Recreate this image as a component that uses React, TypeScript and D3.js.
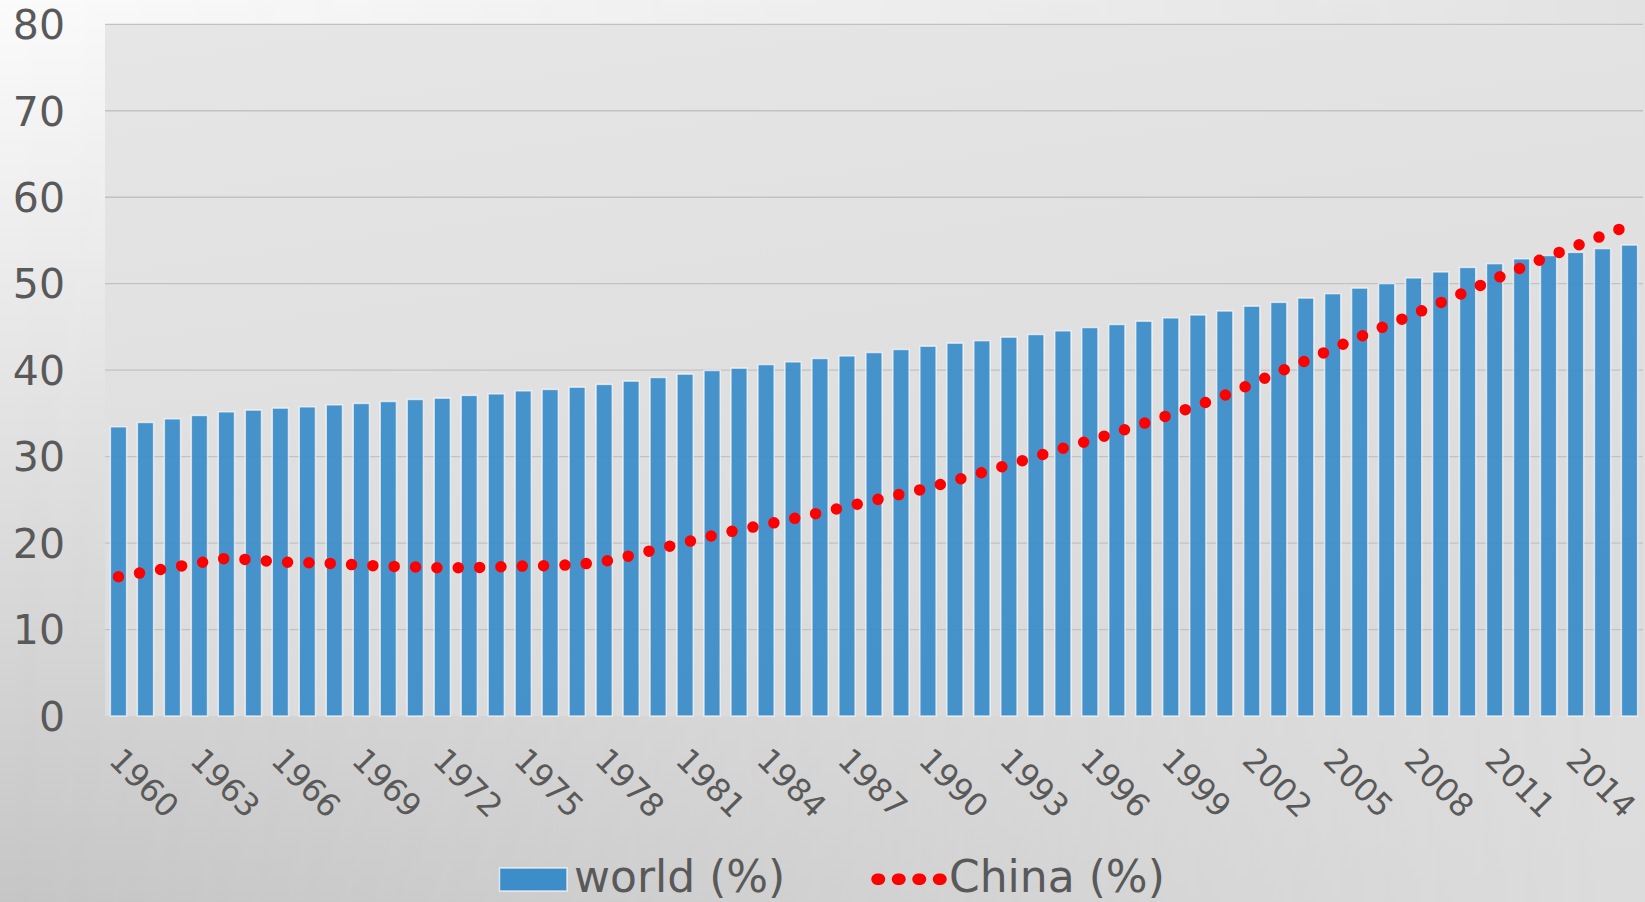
import React from "react";
import * as d3 from "d3";

const years: number[] = [
  1960, 1961, 1962, 1963, 1964, 1965, 1966, 1967, 1968, 1969,
  1970, 1971, 1972, 1973, 1974, 1975, 1976, 1977, 1978, 1979,
  1980, 1981, 1982, 1983, 1984, 1985, 1986, 1987, 1988, 1989,
  1990, 1991, 1992, 1993, 1994, 1995, 1996, 1997, 1998, 1999,
  2000, 2001, 2002, 2003, 2004, 2005, 2006, 2007, 2008, 2009,
  2010, 2011, 2012, 2013, 2014, 2015, 2016,
];

const world: number[] = [
  33.45, 33.95, 34.37, 34.76, 35.18, 35.38, 35.61, 35.76, 35.99, 36.15,
  36.38, 36.61, 36.76, 37.08, 37.26, 37.61, 37.77, 38.03, 38.35, 38.73,
  39.15, 39.54, 39.96, 40.23, 40.65, 40.96, 41.35, 41.65, 42.04, 42.39,
  42.77, 43.12, 43.41, 43.82, 44.12, 44.55, 44.93, 45.28, 45.66, 46.05,
  46.38, 46.84, 47.4, 47.84, 48.34, 48.85, 49.49, 50.01, 50.67, 51.36,
  51.88, 52.32, 52.88, 53.26, 53.62, 54.06, 54.47,
];

const china: number[] = [
  16.1, 16.65, 17.17, 17.72, 18.25, 18.05, 17.8, 17.73, 17.63, 17.44,
  17.32, 17.23, 17.13, 17.15, 17.24, 17.34, 17.39, 17.5, 17.87, 18.56,
  19.32, 20.08, 20.85, 21.54, 22.14, 22.82, 23.52, 24.22, 24.95, 25.66,
  26.37, 27.24, 28.15, 29.06, 30.0, 30.95, 31.87, 32.81, 33.84, 34.87,
  35.92, 37.1, 38.4, 39.78, 41.08, 42.47, 43.84, 45.17, 46.46, 47.81,
  49.15, 50.53, 51.87, 53.15, 54.34, 55.55, 56.75,
];

const xTickLabels: number[] = [
  1960, 1963, 1966, 1969, 1972, 1975, 1978, 1981, 1984, 1987,
  1990, 1993, 1996, 1999, 2002, 2005, 2008, 2011, 2014,
];

const yTicks: number[] = [0, 10, 20, 30, 40, 50, 60, 70, 80];

const legendLabels = { world: "world (%)", china: "China (%)" };

const W = 1645;
const H = 902;
const plot = { left: 105, right: 1643, top: 24.3, bottom: 716 };

const BAR_COLOR = "#3d8dc9";
const TEXT_COLOR = "#595959";
const FONT = "'DejaVu Sans', Verdana, sans-serif";

export default function App() {
  const x = d3
    .scaleBand<number>()
    .domain(years)
    .range([plot.left, plot.right])
    .paddingInner(0.4)
    .paddingOuter(0.2);
  const y = d3.scaleLinear().domain([0, 80]).range([plot.bottom, plot.top]);
  const bw = x.bandwidth();
  const cx = (yr: number) => (x(yr) as number) + bw / 2;

  const line = d3
    .line<number>()
    .x((_, i) => cx(years[i]))
    .y((d) => y(d));

  return (
    <svg
      width={W}
      height={H}
      viewBox={`0 0 ${W} ${H}`}
      style={{ position: "absolute", left: 0, top: 0, display: "block" }}
    >
      <defs>
        <linearGradient id="bgLeft" x1="0" y1="0" x2="0" y2="1">
          <stop offset="0" stopColor="rgb(251,251,251)" />
          <stop offset="1" stopColor="rgb(198,198,198)" />
        </linearGradient>
        <linearGradient id="bgRight" x1="0" y1="0" x2="0" y2="1">
          <stop offset="0" stopColor="rgb(226,226,226)" />
          <stop offset="1" stopColor="rgb(220,220,220)" />
        </linearGradient>
        <linearGradient id="hMask" x1="0" y1="0" x2="1" y2="0">
          <stop offset="0" stopColor="#000" />
          <stop offset="1" stopColor="#fff" />
        </linearGradient>
        <mask id="rightMask" maskUnits="userSpaceOnUse" x="0" y="0" width={W} height={H}>
          <rect x={0} y={0} width={W} height={H} fill="url(#hMask)" />
        </mask>
        <linearGradient id="plotBg" x1="0" y1="0" x2="0.3" y2="1">
          <stop offset="0" stopColor="rgb(230,230,230)" />
          <stop offset="1" stopColor="rgb(219,219,219)" />
        </linearGradient>
      </defs>

      <rect x={0} y={0} width={W} height={H} fill="url(#bgLeft)" />
      <rect x={0} y={0} width={W} height={H} fill="url(#bgRight)" mask="url(#rightMask)" />

      <rect
        x={plot.left}
        y={plot.top}
        width={plot.right - plot.left}
        height={plot.bottom - plot.top}
        fill="url(#plotBg)"
      />

      {yTicks
        .filter((t) => t > 0)
        .map((t) => (
          <line
            key={"g" + t}
            x1={plot.left}
            x2={plot.right}
            y1={y(t)}
            y2={y(t)}
            stroke="#c2c2c2"
            strokeWidth={1.3}
          />
        ))}

      {yTicks.map((t) => (
        <text
          key={"yt" + t}
          x={65}
          y={y(t)}
          dy="0.36em"
          textAnchor="end"
          fontFamily={FONT}
          fontSize={41}
          fill={TEXT_COLOR}
        >
          {t}
        </text>
      ))}

      {years.map((yr, i) => (
        <rect
          key={"b" + yr}
          x={x(yr)}
          y={y(world[i])}
          width={bw}
          height={y(0) - y(world[i])}
          fill={BAR_COLOR}
          fillOpacity={0.95}
          stroke="rgba(255,255,255,0.65)"
          strokeWidth={1.5}
        />
      ))}

      <path
        d={line(china) || ""}
        fill="none"
        stroke="#ff0000"
        strokeWidth={11.5}
        strokeLinecap="round"
        strokeDasharray="0 21.35"
      />

      {xTickLabels.map((yr) => {
        const px = cx(yr) - 11;
        const py = 762;
        return (
          <text
            key={"xt" + yr}
            transform={`translate(${px},${py}) rotate(45)`}
            fontFamily={FONT}
            fontSize={32}
            fill={TEXT_COLOR}
          >
            {yr}
          </text>
        );
      })}

      {/* legend */}
      <rect
        x={499.5}
        y={868}
        width={67.5}
        height={23}
        fill={BAR_COLOR}
        stroke="rgba(255,255,255,0.7)"
        strokeWidth={1.5}
      />
      <text x={574} y={892} fontFamily={FONT} fontSize={44} fill={TEXT_COLOR}>
        {legendLabels.world}
      </text>
      <line
        x1={877}
        x2={943}
        y1={879.3}
        y2={879.3}
        stroke="#ff0000"
        strokeWidth={11.5}
        strokeLinecap="round"
        strokeDasharray="2.5 18"
      />
      <text x={949} y={892} fontFamily={FONT} fontSize={44} fill={TEXT_COLOR}>
        {legendLabels.china}
      </text>
    </svg>
  );
}
